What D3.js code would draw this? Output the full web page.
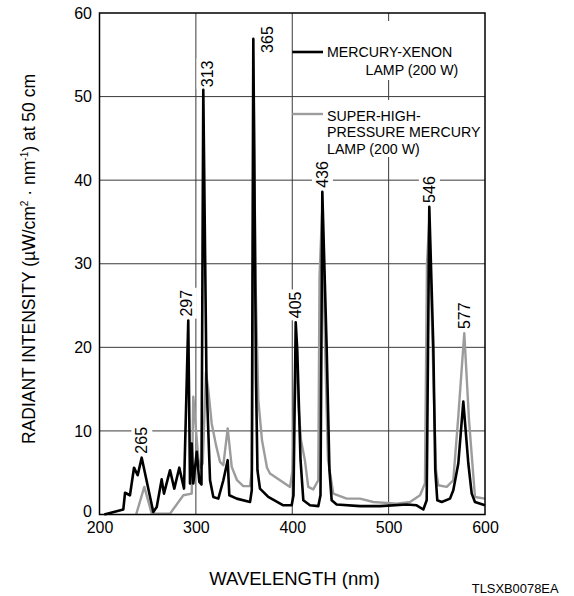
<!DOCTYPE html>
<html>
<head>
<meta charset="utf-8">
<script src="https://cdn.jsdelivr.net/npm/d3@7"></script>
<style>
  html, body { margin: 0; padding: 0; background: #fff; }
  svg { display: block; font-family: "Liberation Sans", Arial, Helvetica, sans-serif; }
</style>
</head>
<body>
<svg id="chart" width="574" height="596"></svg>
<script>
// ---------- data ----------
const xTicks = [200, 300, 400, 500, 600];
const yTicks = [0, 10, 20, 30, 40, 50, 60];

// Mercury-xenon lamp (200 W)
const xenonWavelength = [205, 224.7, 226.5, 231.6, 235.8, 239.6, 243.8, 255.8, 259.4, 264.5, 266.9, 273.2, 277.6, 282.8, 287.7,
  292.1, 293.9, 295.7, 297.3, 300.9, 303.6, 305.8, 307.7, 311.0, 314.7, 318.1, 323.3, 328.5, 333.0, 334.7, 342.4, 356.2, 358.0,
  359.6, 362.4, 363.9, 366.5, 375.1, 390.7, 399.4, 401.3, 403.6, 405.2, 408.6, 411.5, 418.4, 427.0, 429.3, 431.2, 435.7, 438.6,
  440.9, 446.1, 470.3, 491.0, 518.8, 529.1, 536.0, 539.5, 542.2, 546.4, 548.4, 550.5, 555.1, 563.7, 567.1, 572.3, 577.5, 582.7,
  586.2, 589.6, 600];
const xenonIntensity = [0, 0.6, 2.6, 2.3, 5.6, 4.7, 6.8, 0.3, 0.9, 4.2, 2.5, 5.3, 3.1, 5.6, 3.1,
  23.2, 3.7, 8.5, 3.7, 7.5, 3.9, 3.6, 50.8, 16.1, 4.1, 2.1, 1.9, 4.1, 6.5, 2.3, 1.9, 1.5, 2.9,
  56.9, 16.1, 5.3, 3.1, 2.1, 1.1, 1.1, 2.3, 23.0, 19.7, 6.5, 1.7, 1.1, 1.0, 2.3, 38.6, 20, 5.3,
  1.7, 1.2, 1.0, 1.0, 1.2, 1.1, 0.6, 1.7, 36.8, 20, 5.3, 1.7, 1.5, 1.9, 2.9, 6.1, 13.5, 6.1,
  2.5, 1.5, 1.1];

// Super-high-pressure mercury lamp (200 W)
const mercuryWavelength = [238, 246.5, 254.2, 273.2, 287.0, 295.7, 297.3, 300.1, 302.5, 305.0, 307.1, 310.5, 312.9, 316.4,
  320.9, 325.0, 328.5, 333.0, 337.2, 342.7, 349.2, 356.2, 358.2, 360.1, 361.9, 364.8, 368.6, 373.8, 376.9, 387.3, 397.7,
  400.3, 403.9, 406.0, 409.1, 413.1, 416.6, 421.8, 427.0, 428.3, 430.9, 434.5, 437.1, 442.6, 456.5, 470.3, 484.1, 508.4,
  522.2, 532.6, 537.7, 539.8, 542.2, 547.1, 549.2, 551.5, 560.3, 567.1, 572.0, 578.5, 583.4, 589.6, 600];
const mercuryIntensity = [0, 3.3, 0.1, 0.1, 2.3, 2.5, 14.1, 10.1, 6.7, 5.6, 6.1, 17.0, 14.9, 10.9,
  8.3, 6.3, 5.9, 10.3, 5.7, 4.1, 3.4, 3.4, 5.3, 49.6, 28, 13.7, 8.9, 5.6, 4.9, 4.1, 3.3,
  5.3, 20.3, 13.7, 8.9, 6.5, 3.3, 3.0, 4.1, 28.5, 36.0, 18, 6.5, 2.5, 1.9, 1.9, 1.5, 1.3,
  1.5, 2.3, 3.7, 30, 35.2, 13.7, 5.3, 3.5, 3.3, 4.1, 11.3, 21.7, 11.3, 2.1, 1.9];

// peak annotations
const peakLabels = ["265", "297", "313", "365", "405", "436", "546", "577"];
const peakWavelength = [243.8, 292.1, 307.7, 359.6, 403.6, 431.2, 542.2, 578.5];
const peakIntensity = [6.8, 23.2, 50.8, 56.9, 23.0, 38.6, 36.8, 21.7];

const legendNames = [["MERCURY-XENON", "LAMP (200 W)"], ["SUPER-HIGH-", "PRESSURE MERCURY", "LAMP (200 W)"]];

// ---------- layout ----------
const svg = d3.select("#chart");
const L = 99.5, R = 485, T = 13, B = 514.5;
const x = d3.scaleLinear().domain([200, 600]).range([L, R]);
const y = d3.scaleLinear().domain([0, 60]).range([B, T]);
const GRID = "#3a3a3a", GRAY = "#9c9c9c";

// grid
const grid = svg.append("g");
grid.selectAll("line.h").data(yTicks.filter(v => v > 0 && v < 60)).join("line")
  .attr("x1", L).attr("x2", R).attr("y1", d => y(d)).attr("y2", d => y(d))
  .attr("stroke", GRID).attr("stroke-width", 1);
grid.selectAll("line.v").data(xTicks.filter(v => v > 200 && v < 600)).join("line")
  .attr("y1", T).attr("y2", B).attr("x1", d => x(d)).attr("x2", d => x(d))
  .attr("stroke", GRID).attr("stroke-width", 1);

// axes (labels only)
const xAxis = svg.append("g").attr("transform", `translate(0,${B})`)
  .call(d3.axisBottom(x).tickValues(xTicks).tickSize(0).tickPadding(7).tickFormat(d3.format("d")));
const yAxis = svg.append("g").attr("transform", `translate(${L},0)`)
  .call(d3.axisLeft(y).tickValues(yTicks).tickSize(0).tickPadding(7.5).tickFormat(d3.format("d")));
[xAxis, yAxis].forEach(a => {
  a.select(".domain").remove();
  a.selectAll("text").attr("font-size", 16).attr("fill", "#000")
    .attr("font-family", '"Liberation Sans", Arial, sans-serif');
});
yAxis.selectAll(".tick").filter(d => d === 0).select("text").attr("dy", "0.1em");

// legend white backgrounds
svg.append("rect").attr("x", 324).attr("y", 21).attr("width", 140).attr("height", 59).attr("fill", "#fff");
svg.append("rect").attr("x", 324).attr("y", 100).attr("width", 159).attr("height", 57).attr("fill", "#fff");

// peak labels (backgrounds first)
const labelOffsets = {"297": [-2, -4], "313": [3.7, -2.7], "365": [13.7, 14]};
const labelGroups = svg.append("g").selectAll("g").data(peakLabels).join("g")
  .attr("transform", (d, i) => {
    const o = labelOffsets[d] || [0, -4];
    return `translate(${x(peakWavelength[i]) + o[0]},${y(peakIntensity[i]) + o[1]}) rotate(-90)`;
  });
labelGroups.append("text")
  .attr("font-size", 16).attr("dy", "0.35em").attr("text-anchor", "start")
  .text(d => d);
labelGroups.each(function () {
  const g = d3.select(this);
  const bb = g.select("text").node().getBBox();
  g.insert("rect", "text").attr("x", bb.x - 2).attr("y", bb.y - 2)
    .attr("width", bb.width + 4).attr("height", bb.height + 4).attr("fill", "#fff");
});

// series
const line = d3.line().x(d => x(d[0])).y(d => y(d[1]));
svg.append("path").datum(d3.zip(mercuryWavelength, mercuryIntensity))
  .attr("d", line).attr("fill", "none").attr("stroke", GRAY).attr("stroke-width", 2.4)
  .attr("stroke-linejoin", "round");
svg.append("path").datum(d3.zip(xenonWavelength, xenonIntensity))
  .attr("d", line).attr("fill", "none").attr("stroke", "#000").attr("stroke-width", 2.6)
  .attr("stroke-linejoin", "round");

labelGroups.raise();

// frame
svg.append("rect").attr("x", L).attr("y", T).attr("width", R - L).attr("height", B - T)
  .attr("fill", "none").attr("stroke", "#000").attr("stroke-width", 1.5);

// legend
const leg = svg.append("g").attr("font-size", 14.2);
leg.append("line").attr("x1", x(400)).attr("x2", 323).attr("y1", 52).attr("y2", 52)
  .attr("stroke", "#000").attr("stroke-width", 2.6);
leg.append("line").attr("x1", x(400)).attr("x2", 323).attr("y1", 114).attr("y2", 114)
  .attr("stroke", GRAY).attr("stroke-width", 2.4);
leg.append("text").attr("x", 327).attr("y", 57).text(legendNames[0][0]);
leg.append("text").attr("x", 365.5).attr("y", 75).text(legendNames[0][1]);
legendNames[1].forEach((t, i) => {
  leg.append("text").attr("x", 327).attr("y", 120.7 + i * 16.7).text(t);
});

// axis titles
svg.append("text").attr("x", 294.5).attr("y", 585).attr("text-anchor", "middle")
  .attr("font-size", 18.5).text("WAVELENGTH (nm)");

const yt = svg.append("text").attr("transform", "translate(35,259) rotate(-90)")
  .attr("text-anchor", "middle").attr("font-size", 17.5);
yt.append("tspan").text("RADIANT INTENSITY (\u00B5W/cm");
yt.append("tspan").attr("font-size", 10).attr("dy", -7).text("2");
yt.append("tspan").attr("dy", 7).text(" \u00B7 nm");
yt.append("tspan").attr("font-size", 10).attr("dy", -7).text("-1");
yt.append("tspan").attr("dy", 7).text(") at 50 cm");

svg.append("text").attr("x", 558.5).attr("y", 592.7).attr("text-anchor", "end")
  .attr("font-size", 12.9).text("TLSXB0078EA");
</script>
</body>
</html>
